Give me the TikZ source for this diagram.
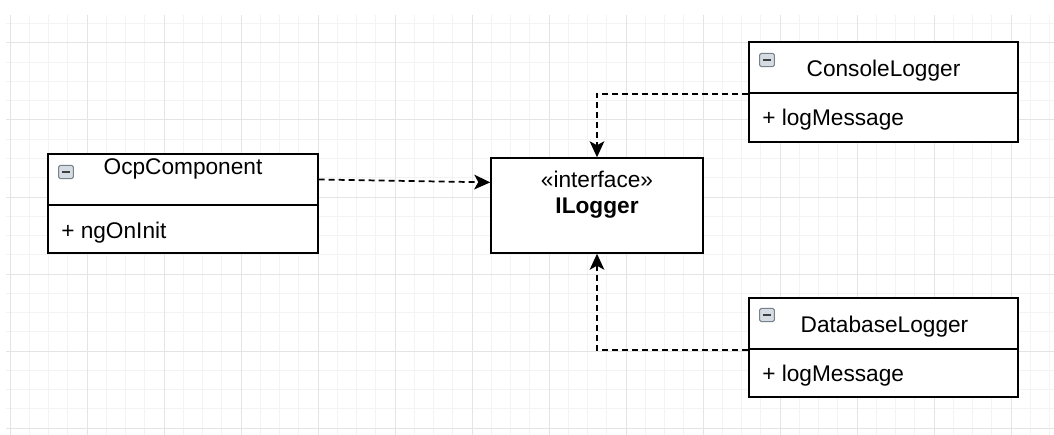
\documentclass[tikz,border=0pt]{standalone}
\usepackage{fontspec}
\setmainfont{Liberation Sans}
\usetikzlibrary{fit,calc,arrows.meta}
\definecolor{gridmajor}{RGB}{228,228,228}
\definecolor{gridminor}{RGB}{243,243,243}
\definecolor{iconfill}{RGB}{214,220,228}
\definecolor{iconedge}{RGB}{120,128,140}
\tikzset{
  box/.style={draw=black, line width=1.1pt, fill=white, inner sep=0pt},
  titletext/.style={font=\fontsize{17}{20}\selectfont, inner sep=0pt, anchor=base},
  membertext/.style={font=\fontsize{17}{20}\selectfont, inner sep=0pt, anchor=base west},
  boldtext/.style={font=\fontsize{17}{20}\selectfont\bfseries, inner sep=0pt, anchor=base},
  iconbox/.style={draw=iconedge, line width=0.7pt, fill=iconfill, rounded corners=1.2pt,
    minimum width=11pt, minimum height=10pt, inner sep=0pt,
    path picture={\draw[line width=1.3pt, black!75]
      ([xshift=-3pt]path picture bounding box.center) -- ([xshift=3pt]path picture bounding box.center);}},
  dep/.style={draw=black, line width=1.3pt, dash pattern=on 4.5pt off 3pt,
    -{Stealth[length=12pt, width=11pt, inset=3pt]}}
}
\begin{document}
\begin{tikzpicture}[x=0.75pt, y=-0.75pt]
\useasboundingbox (0,0) rectangle (1054,435);
% grid
\begin{scope}
\clip (6,15) rectangle (1054,435);
\foreach \i in {0,...,54} {
  \draw[gridminor, line width=0.75pt] ({10+\i*19.25},15) -- ({10+\i*19.25},435);
}
\foreach \j in {-1,...,20} {
  \draw[gridminor, line width=0.75pt] (6,{43+\j*19.25}) -- (1054,{43+\j*19.25});
}
\foreach \i in {0,...,13} {
  \draw[gridmajor, line width=0.75pt] ({10+\i*77},15) -- ({10+\i*77},435);
}
\foreach \j in {0,...,5} {
  \draw[gridmajor, line width=0.75pt] (6,{43+\j*77}) -- (1054,{43+\j*77});
}
\end{scope}

% OcpComponent
\node[box, fit={(48,154) (318,205)}] (ocpHead) {};
\node[box, fit={(48,205) (318,253)}] (ocpBody) {};
\node[iconbox] (ocpIcon) at (66,172) {};
\node[titletext] (ocpTitle) at (183,174) {OcpComponent};
\node[membertext] (ocpMember) at (61,238) {+ ngOnInit};

% ILogger
\node[box, fit={(491,158) (703,253)}] (ilog) {};
\node[titletext] (ilogSter) at (597,187) {«interface»};
\node[boldtext] (ilogName) at (597,213) {ILogger};

% ConsoleLogger
\node[box, fit={(749,42) (1018,93)}] (conHead) {};
\node[box, fit={(749,93) (1018,142)}] (conBody) {};
\node[iconbox] (conIcon) at (767,60) {};
\node[titletext] (conTitle) at (883.5,77) {ConsoleLogger};
\node[membertext] (conMember) at (762,126) {+ logMessage};

% DatabaseLogger
\node[box, fit={(749,298) (1018,349)}] (dbHead) {};
\node[box, fit={(749,349) (1018,397)}] (dbBody) {};
\node[iconbox] (dbIcon) at (767,315) {};
\node[titletext] (dbTitle) at (884.5,332) {DatabaseLogger};
\node[membertext] (dbMember) at (762,381) {+ logMessage};

% connectors
\draw[dep] (ocpHead.east) -- ($(ilog.north west)!0.26!(ilog.south west)$);
\draw[dep] (conHead.south west) -| (ilog.north);
\draw[dep] (dbHead.south west) -| (ilog.south);
\end{tikzpicture}
\end{document}
